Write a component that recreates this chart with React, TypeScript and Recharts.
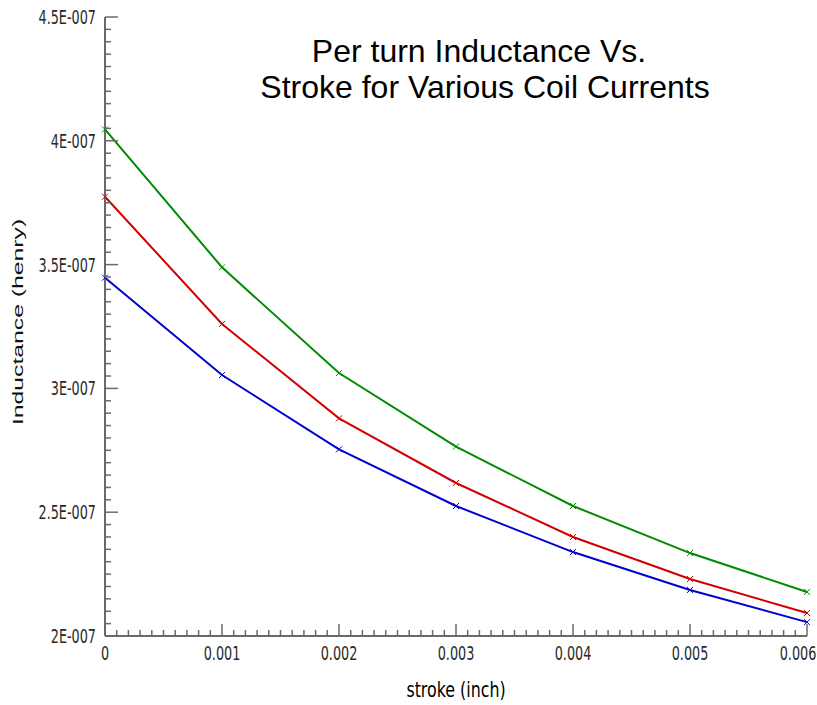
import { LineChart, Line, XAxis, YAxis } from 'recharts';

const strokeInch = [0, 0.001, 0.002, 0.003, 0.004, 0.005, 0.006];
const greenSeries = [4.046e-7, 3.489e-7, 3.062e-7, 2.765e-7, 2.525e-7, 2.335e-7, 2.178e-7];
const redSeries = [3.774e-7, 3.26e-7, 2.879e-7, 2.618e-7, 2.4e-7, 2.23e-7, 2.093e-7];
const blueSeries = [3.447e-7, 3.054e-7, 2.754e-7, 2.525e-7, 2.339e-7, 2.186e-7, 2.056e-7];

const xMajorTicks = [0, 0.001, 0.002, 0.003, 0.004, 0.005, 0.006];
const xTickLabels = ['0', '0.001', '0.002', '0.003', '0.004', '0.005', '0.006'];
const yMajorTicks = [2e-7, 2.5e-7, 3e-7, 3.5e-7, 4e-7, 4.5e-7];
const yTickLabels = ['2E-007', '2.5E-007', '3E-007', '3.5E-007', '4E-007', '4.5E-007'];

const data = strokeInch.map((x, i) => ({
  x,
  green: greenSeries[i],
  red: redSeries[i],
  blue: blueSeries[i],
}));

// 10 minor divisions between major ticks
function withMinor(major: number[]) {
  const out: number[] = [];
  for (let i = 0; i < major.length - 1; i++) {
    const step = (major[i + 1] - major[i]) / 10;
    for (let k = 0; k < 10; k++) out.push(major[i] + step * k);
  }
  out.push(major[major.length - 1]);
  return out;
}

const xTicks = withMinor(xMajorTicks);
const yTicks = withMinor(yMajorTicks);

const AXIS = '#6a6a6a';
const TICK_FONT = '"DejaVu Sans", sans-serif';

function labelFor(v: number, major: number[], labels: string[]) {
  const i = major.findIndex((m) => Math.abs(m - v) < Math.abs(major[1] - major[0]) / 100);
  return i >= 0 ? labels[i] : null;
}

const XTick = (props: any) => {
  const { x, y, payload } = props;
  const label = labelFor(payload.value, xMajorTicks, xTickLabels);
  const len = label !== null ? 12 : 6;
  // last label would run past the page edge, pin it to the right
  const isLast = label === xTickLabels[xTickLabels.length - 1];
  const lx = isLast ? Math.min(x, 816 - 18) : x;
  return (
    <g>
      <line x1={x} x2={x} y1={y} y2={y - len} stroke={AXIS} strokeWidth={1.5} />
      {label !== null && (
        <text
          transform={`translate(${lx},${y + 24}) scale(0.64,1)`}
          textAnchor="middle"
          fontFamily={TICK_FONT}
          fontSize={20}
          fill="#2a2a2a"
        >
          {label}
        </text>
      )}
    </g>
  );
};

const YTick = (props: any) => {
  const { x, y, payload } = props;
  const label = labelFor(payload.value, yMajorTicks, yTickLabels);
  const len = label !== null ? 13 : 6;
  return (
    <g>
      <line x1={x} x2={x + len} y1={y} y2={y} stroke={AXIS} strokeWidth={1.5} />
      {label !== null && (
        <text
          transform={`translate(${x - 9},${y + 7}) scale(0.64,1)`}
          textAnchor="end"
          fontFamily={TICK_FONT}
          fontSize={20}
          fill="#2a2a2a"
        >
          {label}
        </text>
      )}
    </g>
  );
};

const makeCross = (color: string) => (props: any) => {
  const { cx, cy, index } = props;
  if (cx == null || cy == null) return <g key={index} />;
  const s = 3;
  return (
    <g key={index}>
      <line x1={cx - s} y1={cy - s} x2={cx + s} y2={cy + s} stroke={color} strokeWidth={1} />
      <line x1={cx - s} y1={cy + s} x2={cx + s} y2={cy - s} stroke={color} strokeWidth={1} />
    </g>
  );
};

const series = [
  { key: 'green', color: '#008a00' },
  { key: 'red', color: '#d00000' },
  { key: 'blue', color: '#0000d0' },
];

export default function App() {
  return (
    <div style={{ position: 'absolute', left: 0, top: 0, width: 817, height: 705, background: '#fff' }}>
      <LineChart
        width={817}
        height={705}
        data={data}
        margin={{ top: 17, right: 10, bottom: 39, left: 10 }}
      >
        <XAxis
          dataKey="x"
          type="number"
          domain={[0, 0.006]}
          ticks={xTicks}
          interval={0}
          tick={<XTick />}
          tickLine={false}
          tickSize={0}
          tickMargin={0}
          axisLine={{ stroke: AXIS, strokeWidth: 2 }}
          height={30}
        />
        <XAxis
          xAxisId="top"
          orientation="top"
          dataKey="x"
          type="number"
          domain={[0, 0.006]}
          tick={false}
          tickLine={false}
          axisLine={{ stroke: AXIS, strokeWidth: 2 }}
          height={0}
        />
        <YAxis
          type="number"
          domain={[2e-7, 4.5e-7]}
          ticks={yTicks}
          interval={0}
          tick={<YTick />}
          tickLine={false}
          tickSize={0}
          tickMargin={0}
          axisLine={{ stroke: AXIS, strokeWidth: 2 }}
          width={95}
        />
        <YAxis
          yAxisId="right"
          orientation="right"
          type="number"
          domain={[2e-7, 4.5e-7]}
          tick={false}
          tickLine={false}
          axisLine={{ stroke: AXIS, strokeWidth: 2 }}
          width={0}
        />
        {series.map((s) => (
          <Line
            key={s.key}
            dataKey={s.key}
            type="linear"
            stroke={s.color}
            strokeWidth={2}
            dot={makeCross(s.color)}
            activeDot={false}
            isAnimationActive={false}
          />
        ))}
      </LineChart>
      <div
        style={{
          position: 'absolute',
          left: 0,
          top: 0,
          width: 817,
          height: 705,
          pointerEvents: 'none',
          fontFamily: '"Liberation Sans", Arial, sans-serif',
        }}
      >
        <svg width={817} height={705}>
          <text x={479} y={62} textAnchor="middle" fontSize={32} fill="#000">
            Per turn Inductance Vs.
          </text>
          <text x={485} y={98} textAnchor="middle" fontSize={32} fill="#000">
            Stroke for Various Coil Currents
          </text>
          <text
            transform="translate(456,697) scale(0.72,1)"
            textAnchor="middle"
            fontFamily={TICK_FONT}
            fontSize={22}
            fill="#000"
          >
            stroke (inch)
          </text>
          <text
            transform="translate(23,322) rotate(-90) scale(1.65,1)"
            textAnchor="middle"
            fontSize={15}
            fill="#111"
          >
            Inductance (henry)
          </text>
        </svg>
      </div>
    </div>
  );
}
